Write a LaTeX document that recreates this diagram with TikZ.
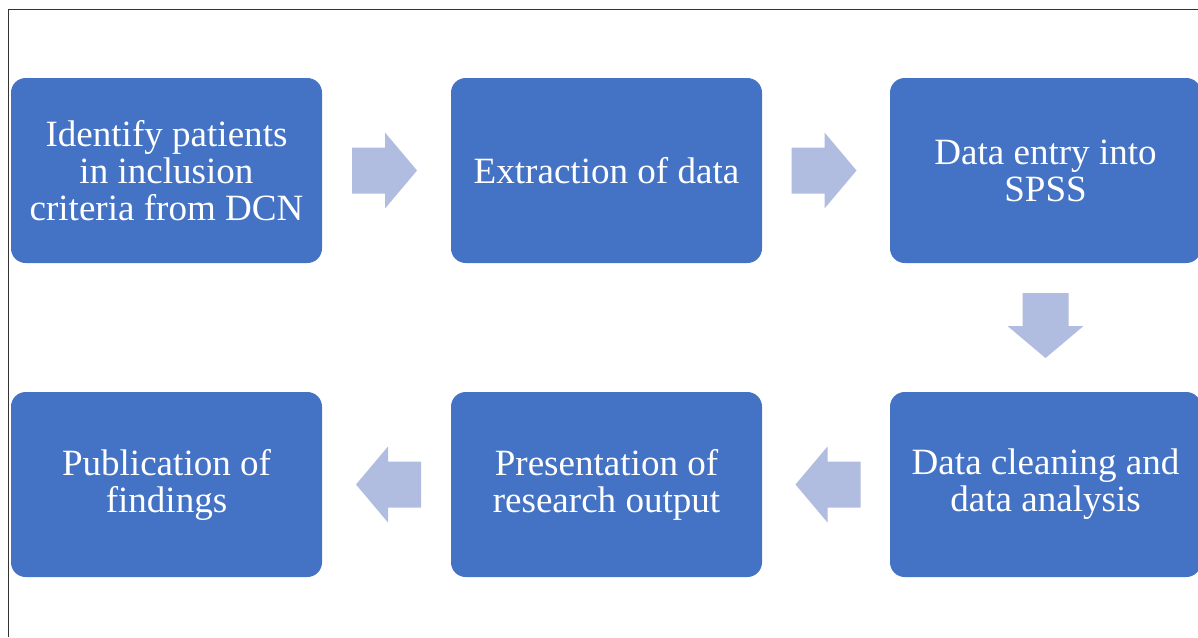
\documentclass[tikz,border=0pt]{standalone}
\usepackage{fontspec}
\setmainfont{Liberation Serif}
\usetikzlibrary{calc}
\definecolor{boxblue}{RGB}{68,114,196}
\definecolor{arrowblue}{RGB}{176,188,224}
\tikzset{
  box/.style={fill=boxblue, rounded corners=11pt, minimum width=233.25pt, minimum height=138.75pt,
    inner sep=0pt, text=white, align=center, font=\fontsize{27.8}{27.75}\selectfont},
  blockarrow/.pic={\fill[arrowblue] (-32.5,-23) -- (0.5,-23) -- (0.5,-38) -- (32.5,0) -- (0.5,38) -- (0.5,23) -- (-32.5,23) -- cycle;}
}
\begin{document}
\begin{tikzpicture}[x=0.75pt,y=-0.75pt]
\useasboundingbox (0,0) rectangle (1198,637);
\draw[line width=1.1pt, black!80] (8.5,637) -- (8.5,9.5) -- (1198,9.5);
\node[box] (a) at (166.5,170.5) {Identify patients\\in inclusion\\criteria from DCN};
\node[box] (b) at (606.5,170.5) {Extraction of data};
\node[box] (c) at (1045.5,170.5) {Data entry into\\SPSS};
\node[box] (d) at (1045.5,484.5) {Data cleaning and\\data analysis};
\node[box] (e) at (606.5,484.5) {Presentation of\\research output};
\node[box] (f) at (166.5,484.5) {Publication of\\findings};
\pic at ($(a.east)!0.5!(b.west)+(-2,0)$) {blockarrow};
\pic at ($(b.east)!0.5!(c.west)+(-2,0)$) {blockarrow};
\pic[rotate=-90] at ($(c.south)!0.5!(d.north)+(0,-2)$) {blockarrow};
\pic[rotate=180] at ($(d.west)!0.5!(e.east)+(2,0)$) {blockarrow};
\pic[rotate=180] at ($(e.west)!0.5!(f.east)+(2,0)$) {blockarrow};
\end{tikzpicture}
\end{document}
